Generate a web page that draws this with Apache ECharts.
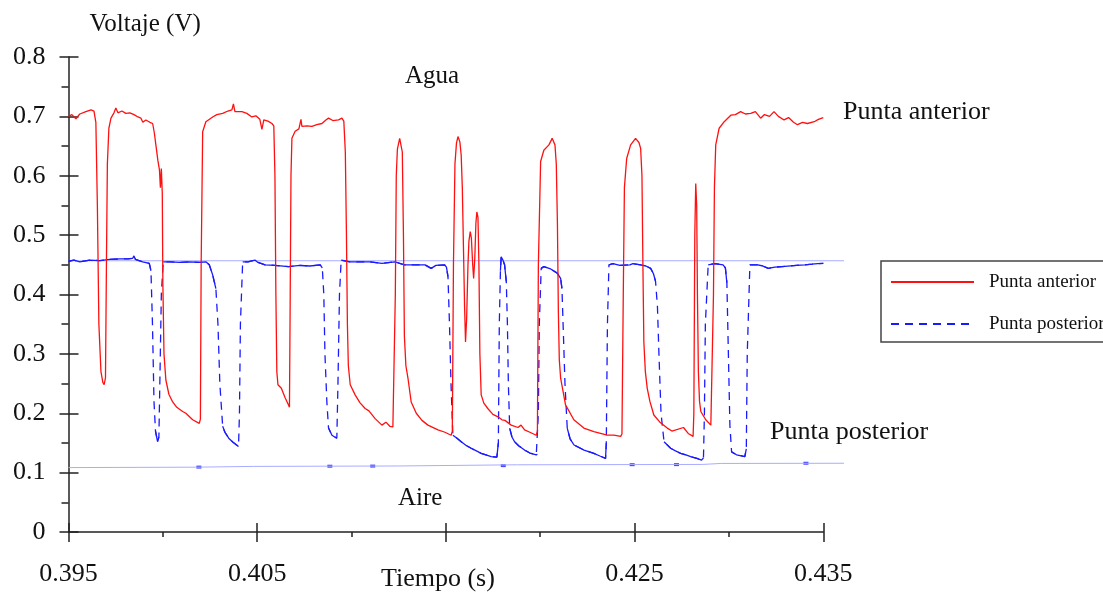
<!DOCTYPE html>
<html>
<head>
<meta charset="utf-8">
<script src="https://cdn.jsdelivr.net/npm/echarts@6/dist/echarts.min.js"></script>
<style>
  html, body { margin: 0; padding: 0; background: #fff; }
  #chart { width: 1103px; height: 592px; }
</style>
</head>
<body>
<div id="chart"></div>
<script>
// Front probe ("Punta anterior"): time (s) and voltage (V)
const antTime = [
  0.39500, 0.39518, 0.39539, 0.39560, 0.39592, 0.39619, 0.39635, 0.39645, 0.39653, 0.39661,
  0.39672, 0.39682, 0.39689, 0.39696, 0.39701, 0.39706, 0.39714, 0.39725, 0.39741, 0.39751,
  0.39762, 0.39783, 0.39804, 0.39825, 0.39847, 0.39868, 0.39884, 0.39894, 0.39910, 0.39931,
  0.39946, 0.39955, 0.39963, 0.39974, 0.39982, 0.39987, 0.39992, 0.39997, 0.40000, 0.40006,
  0.40016, 0.40032, 0.40052, 0.40074, 0.40105, 0.40122, 0.40158, 0.40193, 0.40199, 0.40203,
  0.40211, 0.40228, 0.40264, 0.40286, 0.40317, 0.40345, 0.40366, 0.40374, 0.40382, 0.40419,
  0.40445, 0.40472, 0.40493, 0.40514, 0.40525, 0.40535, 0.40557, 0.40578, 0.40588, 0.40594,
  0.40599, 0.40604, 0.40610, 0.40628, 0.40648, 0.40666, 0.40671, 0.40675, 0.40679, 0.40684,
  0.40701, 0.40721, 0.40732, 0.40737, 0.40763, 0.40790, 0.40816, 0.40843, 0.40864, 0.40878,
  0.40901, 0.40931, 0.40949, 0.40959, 0.40967, 0.40973, 0.40978, 0.40983, 0.40993, 0.41019,
  0.41044, 0.41072, 0.41092, 0.41125, 0.41161, 0.41182, 0.41203, 0.41219, 0.41227, 0.41232,
  0.41237, 0.41243, 0.41255, 0.41264, 0.41269, 0.41275, 0.41280, 0.41288, 0.41299, 0.41316,
  0.41343, 0.41373, 0.41405, 0.41458, 0.41495, 0.41528, 0.41534, 0.41540, 0.41548, 0.41556,
  0.41564, 0.41574, 0.41581, 0.41587, 0.41593, 0.41599, 0.41604, 0.41610, 0.41617, 0.41622,
  0.41629, 0.41635, 0.41642, 0.41647, 0.41653, 0.41659, 0.41664, 0.41670, 0.41675, 0.41680,
  0.41687, 0.41701, 0.41722, 0.41749, 0.41776, 0.41797, 0.41813, 0.41846, 0.41882, 0.41898,
  0.41917, 0.41945, 0.41979, 0.41985, 0.41990, 0.42002, 0.42019, 0.42046, 0.42063, 0.42078,
  0.42085, 0.42091, 0.42096, 0.42101, 0.42108, 0.42134, 0.42178, 0.42231, 0.42284, 0.42355,
  0.42390, 0.42426, 0.42433, 0.42440, 0.42446, 0.42458, 0.42479, 0.42505, 0.42523, 0.42532,
  0.42539, 0.42544, 0.42549, 0.42557, 0.42567, 0.42581, 0.42602, 0.42634, 0.42673, 0.42698,
  0.42759, 0.42784, 0.42810, 0.42814, 0.42819, 0.42824, 0.42829, 0.42833, 0.42838, 0.42844,
  0.42851, 0.42877, 0.42904, 0.42913, 0.42918, 0.42923, 0.42930, 0.42948, 0.42975, 0.43010,
  0.43034, 0.43062, 0.43087, 0.43115, 0.43140, 0.43168, 0.43188, 0.43215, 0.43239, 0.43262,
  0.43292, 0.43316, 0.43342, 0.43363, 0.43390, 0.43416, 0.43452, 0.43474, 0.43500
];
const antVolt = [
  0.700, 0.703, 0.696, 0.704, 0.708, 0.711, 0.709, 0.690, 0.550, 0.350,
  0.270, 0.252, 0.248, 0.260, 0.450, 0.620, 0.680, 0.697, 0.706, 0.714,
  0.706, 0.709, 0.705, 0.706, 0.703, 0.699, 0.697, 0.690, 0.694, 0.690,
  0.688, 0.672, 0.652, 0.625, 0.610, 0.580, 0.612, 0.570, 0.420, 0.300,
  0.256, 0.232, 0.219, 0.210, 0.203, 0.200, 0.189, 0.183, 0.190, 0.450,
  0.674, 0.691, 0.699, 0.703, 0.705, 0.709, 0.711, 0.721, 0.708, 0.708,
  0.705, 0.699, 0.701, 0.695, 0.678, 0.694, 0.692, 0.688, 0.684, 0.600,
  0.400, 0.270, 0.248, 0.242, 0.226, 0.214, 0.210, 0.400, 0.600, 0.663,
  0.675, 0.679, 0.695, 0.683, 0.684, 0.683, 0.686, 0.688, 0.694, 0.697,
  0.693, 0.694, 0.697, 0.692, 0.640, 0.500, 0.350, 0.280, 0.248, 0.231,
  0.218, 0.208, 0.204, 0.191, 0.180, 0.185, 0.178, 0.177, 0.180, 0.400,
  0.600, 0.645, 0.663, 0.660, 0.640, 0.500, 0.330, 0.280, 0.259, 0.219,
  0.200, 0.188, 0.180, 0.172, 0.168, 0.163, 0.170, 0.450, 0.620, 0.655,
  0.666, 0.657, 0.635, 0.580, 0.480, 0.380, 0.320, 0.360, 0.450, 0.490,
  0.506, 0.495, 0.450, 0.427, 0.460, 0.520, 0.539, 0.530, 0.450, 0.300,
  0.231, 0.217, 0.208, 0.198, 0.194, 0.189, 0.188, 0.180, 0.176, 0.180,
  0.172, 0.168, 0.163, 0.170, 0.450, 0.624, 0.643, 0.652, 0.663, 0.652,
  0.620, 0.520, 0.370, 0.290, 0.259, 0.214, 0.189, 0.175, 0.169, 0.163,
  0.163, 0.161, 0.165, 0.400, 0.580, 0.629, 0.652, 0.663, 0.656, 0.646,
  0.600, 0.450, 0.320, 0.270, 0.242, 0.220, 0.197, 0.185, 0.175, 0.170,
  0.176, 0.166, 0.161, 0.200, 0.500, 0.587, 0.550, 0.400, 0.270, 0.220,
  0.203, 0.189, 0.180, 0.182, 0.400, 0.580, 0.652, 0.680, 0.691, 0.702,
  0.703, 0.708, 0.704, 0.705, 0.708, 0.697, 0.703, 0.700, 0.708, 0.700,
  0.694, 0.698, 0.690, 0.686, 0.690, 0.688, 0.691, 0.695, 0.698
];

// Rear probe ("Punta posterior"): time (s) and voltage (V)
const postTime = [
  0.39500, 0.39529, 0.39560, 0.39613, 0.39666, 0.39719, 0.39772, 0.39815, 0.39840, 0.39847,
  0.39855, 0.39893, 0.39928, 0.39937, 0.39945, 0.39953, 0.39961, 0.39972, 0.39979, 0.39984,
  0.39992, 0.40002, 0.40037, 0.40090, 0.40143, 0.40196, 0.40228, 0.40246, 0.40264, 0.40281,
  0.40292, 0.40302, 0.40317, 0.40329, 0.40349, 0.40372, 0.40401, 0.40406, 0.40411, 0.40423,
  0.40451, 0.40488, 0.40504, 0.40542, 0.40594, 0.40666, 0.40726, 0.40779, 0.40834, 0.40845,
  0.40853, 0.40859, 0.40869, 0.40878, 0.40896, 0.40922, 0.40928, 0.40936, 0.40945, 0.40991,
  0.41044, 0.41097, 0.41161, 0.41230, 0.41281, 0.41336, 0.41389, 0.41422, 0.41447, 0.41493,
  0.41503, 0.41511, 0.41519, 0.41527, 0.41537, 0.41559, 0.41581, 0.41606, 0.41634, 0.41659,
  0.41687, 0.41712, 0.41740, 0.41770, 0.41778, 0.41783, 0.41789, 0.41793, 0.41802, 0.41811,
  0.41820, 0.41826, 0.41831, 0.41838, 0.41850, 0.41864, 0.41887, 0.41917, 0.41945, 0.41979,
  0.41985, 0.41990, 0.41995, 0.42005, 0.42019, 0.42055, 0.42090, 0.42108, 0.42115, 0.42123,
  0.42131, 0.42143, 0.42158, 0.42179, 0.42232, 0.42284, 0.42316, 0.42346, 0.42350, 0.42356,
  0.42364, 0.42385, 0.42422, 0.42475, 0.42491, 0.42532, 0.42560, 0.42585, 0.42600, 0.42611,
  0.42621, 0.42629, 0.42640, 0.42656, 0.42691, 0.42714, 0.42744, 0.42772, 0.42797, 0.42830,
  0.42855, 0.42865, 0.42870, 0.42875, 0.42890, 0.42925, 0.42969, 0.42981, 0.42989, 0.42997,
  0.43005, 0.43014, 0.43040, 0.43084, 0.43092, 0.43097, 0.43111, 0.43153, 0.43180, 0.43208,
  0.43243, 0.43281, 0.43358, 0.43402, 0.43440, 0.43471, 0.43500
];
const postVolt = [
  0.456, 0.458, 0.455, 0.458, 0.457, 0.459, 0.460, 0.460, 0.461, 0.465,
  0.459, 0.455, 0.4525, 0.440, 0.350, 0.220, 0.170, 0.152, 0.160, 0.250,
  0.400, 0.455, 0.455, 0.454, 0.455, 0.454, 0.455, 0.450, 0.433, 0.410,
  0.350, 0.250, 0.178, 0.168, 0.158, 0.151, 0.144, 0.200, 0.350, 0.455,
  0.455, 0.458, 0.454, 0.450, 0.449, 0.447, 0.449, 0.448, 0.450, 0.445,
  0.400, 0.300, 0.220, 0.175, 0.163, 0.158, 0.250, 0.400, 0.458, 0.455,
  0.455, 0.455, 0.4525, 0.455, 0.450, 0.450, 0.450, 0.444, 0.449, 0.450,
  0.446, 0.430, 0.350, 0.250, 0.163, 0.158, 0.152, 0.146, 0.141, 0.137,
  0.1325, 0.130, 0.127, 0.126, 0.150, 0.350, 0.440, 0.4637, 0.458, 0.450,
  0.422, 0.350, 0.250, 0.175, 0.160, 0.152, 0.145, 0.138, 0.133, 0.130,
  0.131, 0.200, 0.350, 0.444, 0.447, 0.443, 0.436, 0.427, 0.410, 0.330,
  0.250, 0.175, 0.157, 0.1465, 0.138, 0.1325, 0.128, 0.124, 0.150, 0.350,
  0.450, 0.452, 0.449, 0.450, 0.452, 0.450, 0.448, 0.444, 0.435, 0.422,
  0.380, 0.300, 0.200, 0.152, 0.141, 0.137, 0.1325, 0.130, 0.127, 0.124,
  0.121, 0.125, 0.200, 0.350, 0.450, 0.452, 0.450, 0.445, 0.420, 0.300,
  0.180, 0.135, 0.130, 0.127, 0.140, 0.300, 0.450, 0.450, 0.448, 0.444,
  0.446, 0.447, 0.449, 0.450, 0.451, 0.452, 0.4525
];

// Water and air reference levels (V) and the sample marks on the air level
const waterTime = [0.395, 0.4361];
const waterVolt = [0.4568, 0.4568];
const airTime = [0.395, 0.4018, 0.4048, 0.4125, 0.4188, 0.4286, 0.4296, 0.4361];
const airVolt = [0.1085, 0.1092, 0.1105, 0.1112, 0.1132, 0.1138, 0.1155, 0.1158];
const airMarkTime = [0.40191, 0.40885, 0.41112, 0.41804, 0.42487, 0.42722, 0.43408];
const airMarkVolt = [0.1093, 0.1108, 0.1110, 0.1118, 0.1134, 0.1135, 0.1158];

// Axis ticks; the time axis only labels these ticks (its title sits at 0.415)
const xMin = 0.395, xMax = 0.435, xStep = 0.005;
const yMin = 0, yMax = 0.8, yStep = 0.1;
const xTickLabels = ['0.395', '0.405', '0.425', '0.435'];

const zip = (a, b) => a.map((v, i) => [v, b[i]]);

// Keep only the gentle parts of a trace: steep jumps are left as gaps
function gentleParts(t, v, limit) {
  const out = [];
  for (let i = 0; i < t.length; i++) {
    if (i > 0 && Math.abs(v[i] - v[i - 1]) > limit) out.push([(t[i] + t[i - 1]) / 2, '-']);
    out.push([t[i], v[i]]);
  }
  return out;
}

const serif = '"Liberation Serif", "DejaVu Serif", serif';
const ink = '#111';
const RED = '#ff1010';
const BLUE = '#1a1aff';
const REF = '#a8acff';
const AXIS = '#222';

const chart = echarts.init(document.getElementById('chart'), null, { renderer: 'canvas' });

const baseX = {
  type: 'value', min: xMin, max: xMax, gridIndex: 0, position: 'bottom',
  splitLine: { show: false }
};
const baseY = {
  type: 'value', min: yMin, max: yMax, interval: yStep, gridIndex: 0, position: 'left',
  splitLine: { show: false }
};

chart.setOption({
  animation: false,
  backgroundColor: '#fff',
  grid: [
    { left: 68.5, right: 279.7, top: 57, bottom: 60, outerBoundsMode: 'none', containLabel: false },
    { left: 68.5, right: 258, top: 57, bottom: 60, outerBoundsMode: 'none', containLabel: false }
  ],
  xAxis: [
    Object.assign({}, baseX, {
      interval: xStep,
      axisLine: { lineStyle: { color: AXIS, width: 1.5 } },
      axisTick: { length: 5, lineStyle: { color: AXIS, width: 1.5 } },
      axisLabel: {
        margin: 29, color: ink, fontFamily: serif, fontSize: 26,
        formatter: v => (xTickLabels.indexOf(v.toFixed(3)) >= 0 ? v.toFixed(3) : '')
      },
      name: 'Tiempo (s)', nameLocation: 'middle', nameGap: 34, nameMoveOverlap: false,
      nameTextStyle: { color: ink, fontFamily: serif, fontSize: 26, padding: [0, 16, 0, 0] }
    }),
    Object.assign({}, baseX, {
      interval: 2 * xStep,
      axisLine: { show: false },
      axisTick: { length: 10, lineStyle: { color: AXIS, width: 1.5 } },
      axisLabel: { show: false }
    }),
    Object.assign({}, baseX, {
      interval: 2 * xStep,
      axisLine: { show: false },
      axisTick: { inside: true, length: 9, lineStyle: { color: AXIS, width: 1.5 } },
      axisLabel: { show: false }
    }),
    { type: 'value', gridIndex: 1, min: xMin, max: 0.43615, show: false }
  ],
  yAxis: [
    Object.assign({}, baseY, {
      axisLine: { show: true, lineStyle: { color: AXIS, width: 1.5 } },
      axisTick: { length: 9, lineStyle: { color: AXIS, width: 1.5 } },
      minorTick: { show: true, splitNumber: 2, length: 7, lineStyle: { color: AXIS, width: 1.5 } },
      axisLabel: {
        margin: 23, color: ink, fontFamily: serif, fontSize: 26,
        formatter: v => (v === 0 ? '0' : v.toFixed(1))
      },
      name: 'Voltaje (V)', nameLocation: 'end', nameGap: 20, nameMoveOverlap: false,
      nameTextStyle: { color: ink, fontFamily: serif, fontSize: 25, align: 'left', padding: [0, 0, 0, 21] }
    }),
    Object.assign({}, baseY, {
      axisLine: { show: false },
      axisTick: { inside: true, length: 10, lineStyle: { color: AXIS, width: 1.5 } },
      axisLabel: { show: false }
    }),
    { type: 'value', gridIndex: 1, min: yMin, max: yMax, show: false }
  ],
  legend: {
    orient: 'vertical',
    left: 881, top: 261,
    data: ['Punta anterior', 'Punta posterior'],
    itemWidth: 83, itemHeight: 20, itemGap: 22,
    padding: [11, 30, 8, 9],
    borderColor: '#444', borderWidth: 1.5, borderRadius: 0,
    itemStyle: { opacity: 0 },
    textStyle: { color: ink, fontFamily: serif, fontSize: 19, lineHeight: 20, padding: [0, 0, 0, 10] }
  },
  series: [
    {
      name: 'agua', type: 'line', xAxisIndex: 3, yAxisIndex: 2, silent: true,
      symbol: 'none', data: zip(waterTime, waterVolt),
      lineStyle: { color: REF, width: 1 }
    },
    {
      name: 'aire', type: 'line', xAxisIndex: 3, yAxisIndex: 2, silent: true,
      symbol: 'none', data: zip(airTime, airVolt),
      lineStyle: { color: REF, width: 1 }
    },
    {
      name: 'marcas', type: 'scatter', xAxisIndex: 3, yAxisIndex: 2, silent: true,
      symbol: 'rect', symbolSize: [5, 3], data: zip(airMarkTime, airMarkVolt),
      itemStyle: { color: '#1a1aff' }
    },
    {
      name: 'Punta posterior', type: 'line', xAxisIndex: 0, yAxisIndex: 0,
      symbol: 'none', data: zip(postTime, postVolt),
      itemStyle: { color: BLUE },
      lineStyle: { color: BLUE, width: 1.3, type: [8, 6] }
    },
    {
      name: 'posterior-continua', type: 'line', xAxisIndex: 0, yAxisIndex: 0, silent: true,
      symbol: 'none', connectNulls: false, data: gentleParts(postTime, postVolt, 0.03),
      lineStyle: { color: BLUE, width: 1.3 }
    },
    {
      name: 'Punta anterior', type: 'line', xAxisIndex: 0, yAxisIndex: 0,
      symbol: 'none', data: zip(antTime, antVolt),
      itemStyle: { color: RED },
      lineStyle: { color: RED, width: 1.3 }
    }
  ],
  graphic: [
    { type: 'text', left: 405, top: 64, style: { text: 'Agua', font: '25px ' + serif, fill: ink } },
    { type: 'text', left: 398, top: 486, style: { text: 'Aire', font: '25px ' + serif, fill: ink } },
    { type: 'text', left: 843, top: 99, style: { text: 'Punta anterior', font: '26px ' + serif, fill: ink } },
    { type: 'text', left: 770, top: 419, style: { text: 'Punta posterior', font: '26px ' + serif, fill: ink } }
  ]
});
</script>
</body>
</html>
